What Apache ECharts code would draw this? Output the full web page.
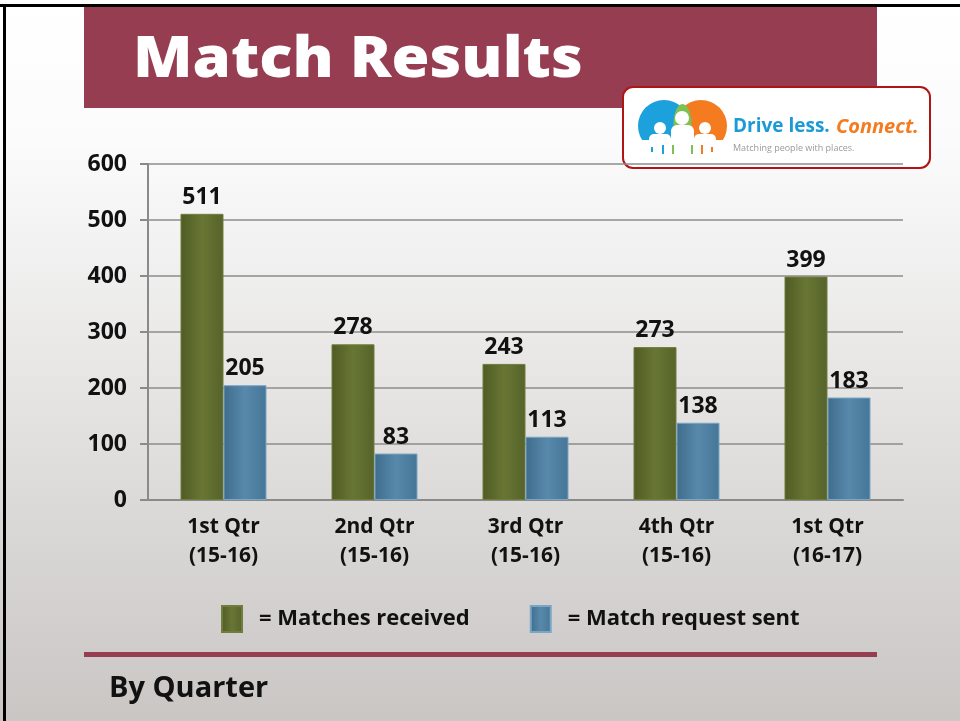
<!DOCTYPE html>
<html>
<head>
<meta charset="utf-8">
<script src="https://cdn.jsdelivr.net/npm/echarts@6/dist/echarts.min.js"></script>
<style>
  html, body { margin: 0; padding: 0; }
  #chart { width: 960px; height: 721px; }
</style>
</head>
<body>
<div id="chart"></div>
<script>
// Quarterly match figures
const categories = ['1st Qtr\n(15-16)', '2nd Qtr\n(15-16)', '3rd Qtr\n(15-16)', '4th Qtr\n(15-16)', '1st Qtr\n(16-17)'];
const matchesReceived = [511, 278, 243, 273, 399];
const requestsSent = [205, 83, 113, 138, 183];
const yTicks = { min: 0, max: 600, interval: 100 };

const FONT = '"Open Sans", "DejaVu Sans", sans-serif';
const MAROON = '#963d52';

const greenFill = new echarts.graphic.LinearGradient(0, 0, 1, 0, [
  { offset: 0, color: '#4f5b24' },
  { offset: 0.5, color: '#687634' },
  { offset: 1, color: '#56632a' }
]);
const blueFill = new echarts.graphic.LinearGradient(0, 0, 1, 0, [
  { offset: 0, color: '#3f6c8c' },
  { offset: 0.5, color: '#5889ab' },
  { offset: 1, color: '#457698' }
]);

const chart = echarts.init(document.getElementById('chart'), null, { renderer: 'canvas' });

const option = {
  backgroundColor: new echarts.graphic.LinearGradient(0, 0, 0, 1, [
    { offset: 0, color: '#ffffff' },
    { offset: 0.2, color: '#fbfbfb' },
    { offset: 1, color: '#c9c6c4' }
  ]),
  animation: false,
  grid: { left: 148, right: 57, top: 164, bottom: 221 },
  legend: {
    left: 216,
    top: 600,
    itemWidth: 20,
    itemHeight: 26,
    itemGap: 60,
    icon: 'rect',
    textStyle: { fontFamily: FONT, fontSize: 22, fontWeight: 700, color: '#111', padding: [0, 0, 0, 12] },
    formatter: name => '= ' + name,
    data: ['Matches received', 'Match request sent']
  },
  xAxis: {
    type: 'category',
    data: categories,
    axisLine: { lineStyle: { color: '#8a8a8a', width: 2 } },
    axisTick: { show: false },
    axisLabel: {
      fontFamily: FONT, fontSize: 21, fontWeight: 700, color: '#111',
      lineHeight: 29, margin: 13
    }
  },
  yAxis: {
    type: 'value',
    min: yTicks.min, max: yTicks.max, interval: yTicks.interval,
    axisLine: { show: true, lineStyle: { color: '#8a8a8a', width: 2 } },
    axisTick: { show: true, inside: false, length: 8, lineStyle: { color: '#8a8a8a', width: 2 } },
    splitLine: { lineStyle: { color: '#8c8c8c', width: 1.5 } },
    axisLabel: { fontFamily: FONT, fontSize: 23, fontWeight: 700, color: '#111', margin: 21 }
  },
  series: [
    {
      name: 'Matches received',
      type: 'bar',
      data: matchesReceived,
      barWidth: 43,
      barGap: '0%',
      itemStyle: { color: greenFill, borderColor: '#6f7c3c', borderWidth: 1 },
      label: { show: true, position: 'top', distance: 5, fontFamily: FONT, fontSize: 23, fontWeight: 700, color: '#111' }
    },
    {
      name: 'Match request sent',
      type: 'bar',
      data: requestsSent,
      barWidth: 43,
      itemStyle: { color: blueFill, borderColor: '#7aa6c4', borderWidth: 1 },
      label: { show: true, position: 'top', distance: 5, fontFamily: FONT, fontSize: 23, fontWeight: 700, color: '#111' }
    }
  ],
  graphic: [
    // frame edges
    { type: 'rect', shape: { x: 0, y: 4, width: 960, height: 3 }, style: { fill: '#000' }, silent: true },
    { type: 'rect', shape: { x: 3, y: 4, width: 3, height: 717 }, style: { fill: '#000' }, silent: true },
    // heading banner
    { type: 'rect', shape: { x: 84, y: 7, width: 793, height: 101 }, style: { fill: MAROON } },
    {
      type: 'text', x: 133, y: 33, scaleX: 1.1,
      style: { text: 'Match Results', fill: '#fff', font: '800 56px "Open Sans", sans-serif' }
    },
    // logo card
    {
      type: 'rect', shape: { x: 623, y: 87, width: 307, height: 81, r: 10 },
      style: { fill: '#fff', stroke: '#b01515', lineWidth: 2 }
    },
    { type: 'circle', shape: { cx: 664, cy: 126, r: 26 }, style: { fill: '#1da1dc' } },
    { type: 'circle', shape: { cx: 701, cy: 126, r: 26 }, style: { fill: '#f47b20' } },
    { type: 'ellipse', shape: { cx: 682.5, cy: 124, rx: 9, ry: 20 }, style: { fill: '#7cc152' } },
    { type: 'rect', shape: { x: 636, y: 140, width: 95, height: 26 }, style: { fill: '#fff' } },
    { type: 'circle', shape: { cx: 660, cy: 128, r: 6 }, style: { fill: '#fff' } },
    { type: 'circle', shape: { cx: 682, cy: 118, r: 7 }, style: { fill: '#fff' } },
    { type: 'circle', shape: { cx: 705, cy: 128, r: 6 }, style: { fill: '#fff' } },
    { type: 'rect', shape: { x: 649, y: 134, width: 22, height: 10, r: [5, 5, 0, 0] }, style: { fill: '#fff' } },
    { type: 'rect', shape: { x: 671, y: 125, width: 23, height: 18, r: [6, 6, 0, 0] }, style: { fill: '#fff' } },
    { type: 'rect', shape: { x: 694, y: 134, width: 22, height: 10, r: [5, 5, 0, 0] }, style: { fill: '#fff' } },
    { type: 'rect', shape: { x: 651, y: 147, width: 2, height: 5 }, style: { fill: '#1da1dc' } },
    { type: 'rect', shape: { x: 662, y: 145, width: 2, height: 9 }, style: { fill: '#1da1dc' } },
    { type: 'rect', shape: { x: 672, y: 145, width: 2, height: 9 }, style: { fill: '#7cc152' } },
    { type: 'rect', shape: { x: 691, y: 145, width: 2, height: 9 }, style: { fill: '#7cc152' } },
    { type: 'rect', shape: { x: 701, y: 145, width: 2, height: 9 }, style: { fill: '#f47b20' } },
    { type: 'rect', shape: { x: 711, y: 147, width: 2, height: 5 }, style: { fill: '#f47b20' } },
    {
      type: 'text', left: 733, top: 117,
      style: { text: 'Drive less.', fill: '#1c9ad6', font: '700 19px "Open Sans", sans-serif' }
    },
    {
      type: 'text', left: 836, top: 117,
      style: { text: 'Connect.', fill: '#f47b20', font: 'italic 700 20px "Open Sans", sans-serif' }
    },
    {
      type: 'text', left: 733, top: 144,
      style: { text: 'Matching people with places.', fill: '#9a9a9a', font: '9px "Open Sans", sans-serif' }
    },
    // footer rule and caption
    { type: 'rect', shape: { x: 84, y: 652, width: 793, height: 5 }, style: { fill: MAROON } },
    {
      type: 'text', left: 109, top: 674,
      style: { text: 'By Quarter', fill: '#111', font: '700 29px "Open Sans", sans-serif' }
    }
  ]
};

chart.setOption(option);
</script>
</body>
</html>
